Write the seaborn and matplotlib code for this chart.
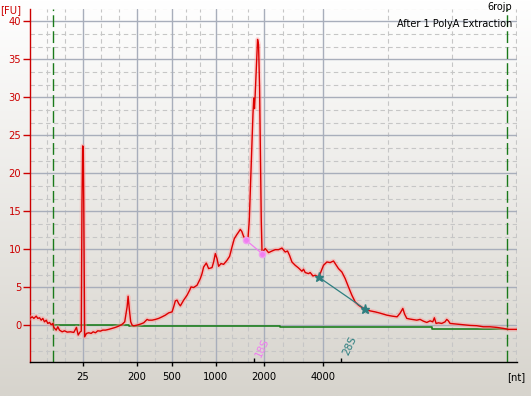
import numpy as np
import matplotlib
matplotlib.use("Agg")
import matplotlib.pyplot as plt
import seaborn as sns
from matplotlib.colors import LinearSegmentedColormap

# migration time [s] and fluorescence [FU]
time_s = [
    19.03, 19.27, 19.43, 19.67, 19.83, 20.0, 20.17, 20.33, 20.5, 20.67, 20.83, 21.0, 21.17, 21.33,
    21.43, 21.67, 21.83, 22.0, 22.27, 22.5, 22.77, 23.1, 23.43, 23.7, 23.87, 24.05, 24.18,
    24.25, 24.32, 24.38, 24.43, 24.52,
    24.7, 24.93, 25.17, 25.37, 25.6, 25.83, 26.1, 26.33, 26.6, 26.93, 27.27, 27.6, 27.93, 28.2,
    28.37, 28.53, 28.67, 28.77, 28.87, 29.0, 29.13, 29.27, 29.43, 29.77, 30.1, 30.43, 30.77, 30.93,
    31.27, 31.6, 31.93, 32.27, 32.6, 32.93, 33.27, 33.43, 33.6, 33.77, 33.93, 34.1, 34.43, 34.77,
    35.03, 35.17, 35.43, 35.77, 36.1, 36.27, 36.43, 36.7, 36.93, 37.27, 37.43, 37.6, 37.77, 37.93,
    38.17, 38.43, 38.77, 39.03, 39.27, 39.5, 39.77, 39.93, 40.1, 40.25, 40.43, 40.7, 40.87,
    41.0, 41.17, 41.37, 41.45, 41.52, 41.58, 41.7, 41.83, 41.93, 42.03, 42.1, 42.2, 42.28,
    42.45, 42.6, 42.93, 43.27, 43.6, 43.93, 44.27, 44.6, 44.83, 45.03, 45.27, 45.6, 45.93, 46.27,
    46.43, 46.6, 46.93, 47.1, 47.37, 47.6, 47.93, 48.1, 48.43, 48.77, 49.1, 49.43, 49.6, 49.93,
    50.27, 50.6, 50.93, 51.27, 51.6, 51.93, 52.27, 52.63, 53.1, 53.6, 54.1, 54.77, 55.3, 55.8,
    56.1, 56.37, 56.55, 56.77, 57.1, 57.77, 58.1, 58.43, 58.77, 59.1, 59.37, 59.53, 59.7, 59.93,
    60.27, 60.6, 60.77, 60.93, 61.1, 61.77, 62.43, 63.1, 63.77, 64.43, 65.1, 65.77, 66.43, 66.93,
    67.43, 67.8,
]
fu = [
    0.92, 1.13, 0.92, 1.22, 0.92, 1.0, 0.69, 0.92, 0.47, 0.69, 0.26, 0.39, 0.08, 0.26,
    -0.26, -0.62, -0.18, -0.62, -0.84, -0.71, -0.88, -0.84, -0.92, -0.26, -1.27, -0.88, -0.75,
    15.9, 23.6, 23.4, 16.0, -1.5,
    -1.05, -0.97, -1.05, -0.84, -0.97, -0.71, -0.75, -0.62, -0.62, -0.52, -0.39, -0.26, -0.09, 0.08,
    0.26, 0.47, 1.57, 2.44, 3.84, 2.0, 0.47, 0.04, -0.05, 0.04, 0.17, 0.34, 0.79, 0.69,
    0.69, 0.79, 0.92, 1.13, 1.35, 1.65, 1.78, 2.44, 3.23, 3.32, 2.88, 2.57, 3.32, 3.97,
    4.63, 5.06, 4.98, 5.28, 6.16, 6.81, 7.68, 8.2, 7.47, 7.6, 8.34, 9.44, 8.78, 7.77,
    8.13, 8.03, 8.56, 9.08, 10.3, 11.4, 11.97, 12.27, 12.62, 12.36, 11.7, 11.18, 11.44,
    13.8, 20.35, 27.8, 29.9, 28.5, 30.0, 33.5, 37.6, 36.9, 31.3, 24.3, 13.8, 9.44,
    9.87, 10.1, 9.57, 9.78, 9.96, 9.96, 10.17, 9.65, 9.78, 9.21, 8.34, 7.9, 7.55, 7.12,
    7.38, 6.95, 6.81, 6.95, 6.5, 6.59, 6.37, 6.81, 7.9, 8.34, 8.26, 8.47, 8.13, 7.47,
    7.02, 6.16, 5.06, 3.97, 3.09, 2.66, 2.36, 2.1, 1.91, 1.78, 1.61, 1.35, 1.22, 1.13,
    1.61, 2.23, 1.48, 0.92, 0.83, 0.69, 0.79, 0.56, 0.39, 0.6, 0.47, 1.0, 0.26, 0.34,
    0.26, 0.47, 0.79, 0.6, 0.26, 0.17, 0.08, 0.0, -0.04, -0.18, -0.18, -0.26, -0.39, -0.52,
    -0.52, -0.52,
]

# baseline (green) and ladder / marker positions
baseline_t = [21.35, 28.93, 28.93, 44.1, 44.1, 59.27, 59.27, 66.83]
baseline_fu = [0.0, 0.0, -0.13, -0.13, -0.26, -0.26, -0.44, -0.44]
marker_t = [21.35, 66.83]

ladder_t = [24.33, 29.73, 33.25, 37.63, 42.43, 48.43]
ladder_nt = ["25", "200", "500", "1000", "2000", "4000"]
minor_grid_t = [20.77, 22.53, 26.17, 27.93, 31.53, 34.7, 36.1, 39.27, 40.87,
                44.4, 46.4, 54.9, 61.3, 67.75]

rrna_names = ["18S", "28S"]
rrna_t = [41.43, 50.23]
s18_t = [40.7, 42.28]
s18_fu = [11.18, 9.44]
s28_t = [47.93, 52.63]
s28_fu = [6.37, 2.1]

sns.set_theme(style="white")
plt.rcParams["font.family"] = ["DejaVu Sans"]
plt.rcParams["font.size"] = 7.2

fig = plt.figure(figsize=(5.31, 3.96), dpi=100)

# background gradient over the whole window
bg = fig.add_axes([0, 0, 1, 1], zorder=-5)
grad = np.linspace(0, 1, 256).reshape(-1, 1)
bg.imshow(grad, aspect="auto", cmap=LinearSegmentedColormap.from_list("bg", ["#ffffff", "#d7d4cd"]))
bg.axis("off")

ax = fig.add_axes([0.0556, 0.0851, 0.918, 0.8922])
ax.set_facecolor("none")
ax.set_xlim(19.0, 67.8)
ax.set_ylim(-4.85, 41.6)

# grid
for t in minor_grid_t:
    ax.axvline(t, color="#c6c6c6", lw=0.8, ls=(0, (4, 3)), zorder=0)
for v in np.arange(-5, 42, 5 / 3):
    if abs(v / 5 - round(v / 5)) > 0.01:
        ax.axhline(v, color="#c6c6c6", lw=0.8, ls=(0, (4, 3)), zorder=0)
for t in ladder_t:
    ax.axvline(t, color="#a8aebb", lw=1.0, zorder=0)
for v in range(0, 45, 5):
    ax.axhline(v, color="#a8aebb", lw=1.0, zorder=0)

# lower / upper marker lines
for t in marker_t:
    ax.axvline(t, color="#1a7a1a", lw=1.0, ls=(0, (8.5, 3)), zorder=1)
ax.plot(baseline_t, baseline_fu, color="#1f801f", lw=1.2, zorder=2)

# trace with glow
ax.plot(time_s, fu, color="#ff9c9c", lw=3.2, alpha=0.45, zorder=3, solid_joinstyle="round")
sns.lineplot(x=time_s, y=fu, ax=ax, color="#dd0000", lw=1.0, estimator=None, sort=False, zorder=4)

# rRNA integration lines
ax.plot(s18_t, s18_fu, color="#f07ef0", lw=0.9, marker="o", ms=4.5, mfc="#f07ef0", mec="#f0a0f0", zorder=5)
ax.plot(s28_t, s28_fu, color="#2f7f80", lw=0.9, marker="*", ms=6.5, mfc="#2f7f80", mec="#2f7f80", zorder=5)

ax.text(42.3, -2.97, rrna_names[0], color="#f07ef0", rotation=65, ha="center", va="center", fontsize=7.5)
ax.text(51.05, -2.7, rrna_names[1], color="#2f7f80", rotation=65, ha="center", va="center", fontsize=7.5)

# ticks
ax.set_xticks(ladder_t)
ax.set_xticklabels(ladder_nt)
ax.set_xticks(rrna_t, minor=True)
ax.tick_params(axis="x", which="major", direction="out", length=3.2, width=1, color="black",
               labelcolor="black", pad=4, labelsize=7.2, bottom=True)
ax.tick_params(axis="x", which="minor", direction="in", length=3.2, width=1, color="black", bottom=True)
ax.set_yticks(range(0, 45, 5))
ax.tick_params(axis="y", which="major", direction="out", length=5, width=1, color="#cc0000",
               labelcolor="#cc0000", pad=1, labelsize=7.2, left=True)
ax.set_xlabel("")
ax.set_ylabel("")

for s in ["top", "right"]:
    ax.spines[s].set_visible(False)
ax.spines["left"].set_color("#cc0000")
ax.spines["left"].set_linewidth(1)
ax.spines["bottom"].set_color("black")
ax.spines["bottom"].set_linewidth(1)

fig.text(0.001, 0.975, "[FU]", color="#cc0000", ha="left", va="center", fontsize=7.2)
fig.text(0.973, 0.048, "[nt]", color="black", ha="center", va="center", fontsize=7.2)
fig.text(0.964, 0.9816, "6rojp", color="black", ha="right", va="center", fontsize=7.0)
fig.text(0.964, 0.9386, "After 1 PolyA Extraction", color="black", ha="right", va="center", fontsize=7.0)

fig.savefig("out.png", dpi=100)
